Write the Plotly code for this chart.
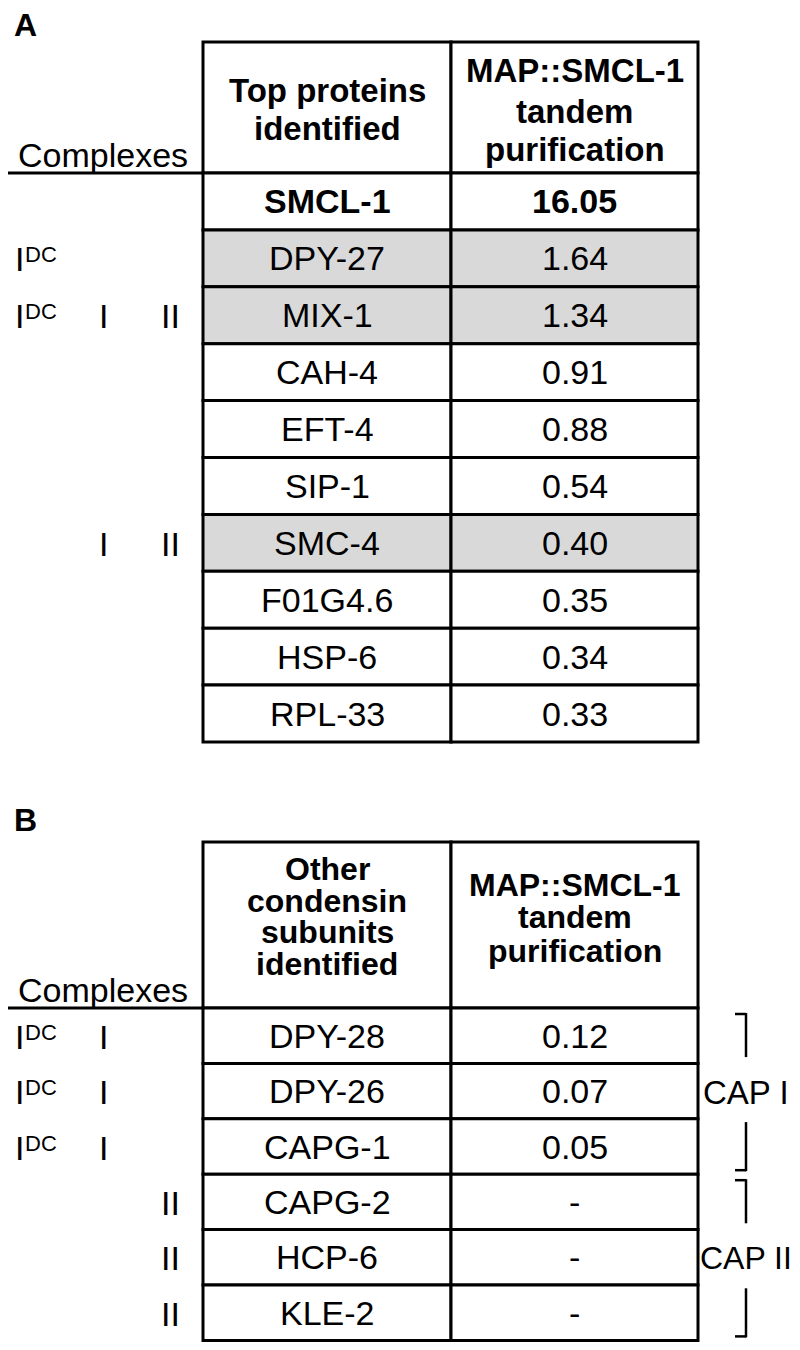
import plotly.graph_objects as go

# ---------------- data ----------------
proteins_A = ["SMCL-1", "DPY-27", "MIX-1", "CAH-4", "EFT-4", "SIP-1", "SMC-4", "F01G4.6", "HSP-6", "RPL-33"]
values_A = [16.05, 1.64, 1.34, 0.91, 0.88, 0.54, 0.40, 0.35, 0.34, 0.33]
idc_A = [False, True, True, False, False, False, False, False, False, False]
cI_A = [False, False, True, False, False, False, True, False, False, False]
cII_A = [False, False, True, False, False, False, True, False, False, False]
shaded_A = [False, True, True, False, False, False, True, False, False, False]
bold_A = [True, False, False, False, False, False, False, False, False, False]

proteins_B = ["DPY-28", "DPY-26", "CAPG-1", "CAPG-2", "HCP-6", "KLE-2"]
values_B = [0.12, 0.07, 0.05, None, None, None]
idc_B = [True, True, True, False, False, False]
cI_B = [True, True, True, False, False, False]
cII_B = [False, False, False, True, True, True]
groups_B = ["CAP I", "CAP II"]
group_rows_B = [(0, 2), (3, 5)]

header_A_left = ["Top proteins", "identified"]
header_A_right = ["MAP::SMCL-1", "tandem", "purification"]
header_B_left = ["Other", "condensin", "subunits", "identified"]
header_B_right = ["MAP::SMCL-1", "tandem", "purification"]

# ---------------- layout constants ----------------
W, H = 800, 1350
OFF = 8                              # page body margin of the browser
FONT = "Liberation Sans, Arial, sans-serif"
X0, X1, X2 = 203, 451, 698          # table column edges
XC1, XC2 = (X0 + X1) / 2, (X1 + X2) / 2
LW = 3
GRAY = "#d9d9d9"
FS = 34

fig = go.Figure()
shapes = []
ann = []


def text(x, y, s, size=FS, bold=False, xanchor="center"):
    ann.append(dict(x=x, y=y, xref="x", yref="y", text=("<b>%s</b>" % s) if bold else s,
                    showarrow=False, xanchor=xanchor, yanchor="middle", borderpad=0,
                    font=dict(family=FONT, size=size, color="black")))


def line(x0, y0, x1, y1, w=LW):
    shapes.append(dict(type="line", xref="x", yref="y", x0=x0, y0=y0, x1=x1, y1=y1,
                       line=dict(color="black", width=w)))


def rect(x0, y0, x1, y1, fill="white"):
    shapes.append(dict(type="rect", xref="x", yref="y", x0=x0, y0=y0, x1=x1, y1=y1,
                       fillcolor=fill, line=dict(color="black", width=LW), layer="below"))


def row_labels(yc, idc, ci, cii):
    if idc:
        text(19.5, yc + 1, "I")
        text(23.5, yc - 3.5, "DC", size=22, xanchor="left")
    if ci:
        text(103.5, yc + 1, "I")
    if cii:
        text(170, yc + 1, "II")


def panel(label, label_y, top, hdr, rowh, proteins, values, idc, ci, cii, shaded, bold,
          hl, hl_y, hl_fs, hr, hr_y, cplx_y):
    text(25, label_y, label, size=32, bold=True)
    rect(X0, top, X1, hdr)
    rect(X1, top, X2, hdr)
    line(1, hdr, X0, hdr)
    text(103, cplx_y, "Complexes")
    for s, y in zip(hl, hl_y):
        text(XC1, y, s, size=hl_fs, bold=True)
    for s, y in zip(hr, hr_y):
        text(XC2, y, s, size=hl_fs, bold=True)
    for i, p in enumerate(proteins):
        y0 = hdr + i * rowh
        y1 = y0 + rowh
        yc = (y0 + y1) / 2
        fill = GRAY if shaded[i] else "white"
        rect(X0, y0, X1, y1, fill)
        rect(X1, y0, X2, y1, fill)
        v = values[i]
        vs = "-" if v is None else "%.2f" % v
        text(XC1, yc, p, bold=bold[i])
        text(XC2, yc, vs, bold=bold[i])
        row_labels(yc, idc[i], ci[i], cii[i])


# Panel A
A_TOP, A_HDR, A_ROWH = 42, 173, 56.9
panel("A", 25, A_TOP, A_HDR, A_ROWH, proteins_A, values_A, idc_A, cI_A, cII_A, shaded_A, bold_A,
      header_A_left, [90, 128], 33, header_A_right, [70, 111, 149], 155)

# Panel B
B_TOP, B_HDR, B_ROWH = 842, 1008, 55.4
panel("B", 820, B_TOP, B_HDR, B_ROWH, proteins_B, values_B, idc_B, cI_B, cII_B,
      [False] * 6, [False] * 6,
      header_B_left, [869, 901, 932, 964], 32, header_B_right, [885, 917, 951], 990)

# brackets for CAP groups
BX, TX = 746, 735
cap_x = [702, 699]
cap_fs = [33, 32]
for k, (g, (r0, r1)) in enumerate(zip(groups_B, group_rows_B)):
    gy0 = B_HDR + r0 * B_ROWH
    gy1 = B_HDR + (r1 + 1) * B_ROWH
    gc = (gy0 + gy1) / 2
    t0, t1 = gy0 + 6, gy1 - 4
    line(TX, t0, BX, t0, 2.5)
    line(BX, t0 - 1, BX, gc - 34, 2.5)
    line(BX, gc + 31, BX, t1 + 1, 2.5)
    line(TX, t1, BX, t1, 2.5)
    text(cap_x[k], gc + 1, g, size=cap_fs[k], xanchor="left")

# figure fits inside the page (8 px body margin on every side -> no scrollbars)
fig.update_layout(
    width=W - OFF, height=H - 2 * OFF, margin=dict(l=0, r=0, t=0, b=0, pad=0),
    paper_bgcolor="white", plot_bgcolor="white",
    xaxis=dict(range=[OFF, W], visible=False, fixedrange=True),
    yaxis=dict(range=[H - OFF, OFF], visible=False, fixedrange=True),
    shapes=shapes, annotations=ann, showlegend=False,
)
fig.write_html("out.html", config={"displayModeBar": False})
